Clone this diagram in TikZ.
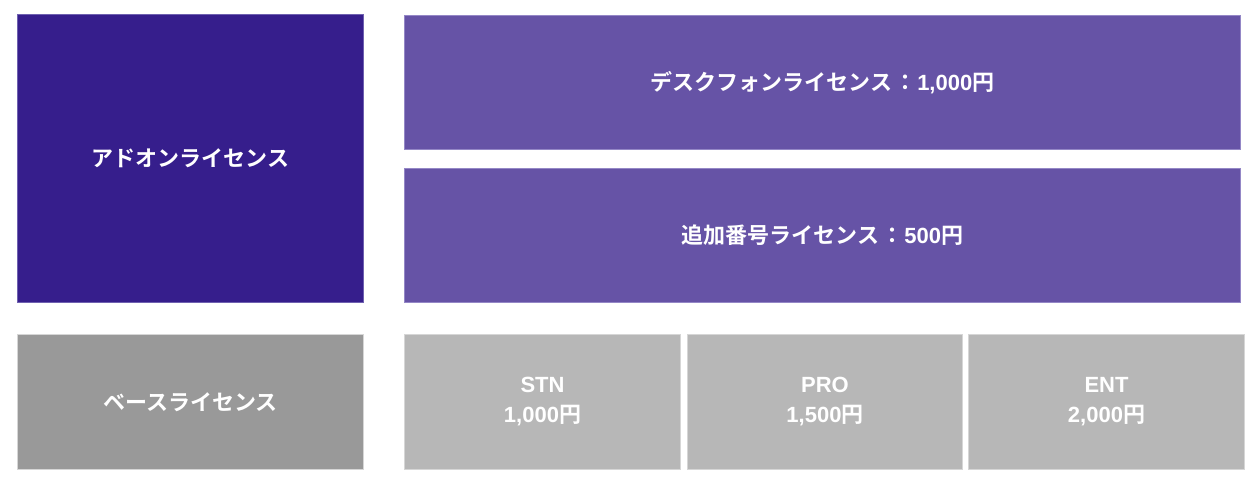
\documentclass[tikz,border=0pt]{standalone}
\usepackage{fontspec}
\setmainfont{Liberation Sans}
\newfontfamily\cjk{Noto Sans CJK JP}[BoldFont={Noto Sans CJK JP Bold}]
\definecolor{darkpurple}{HTML}{361E8C}
\definecolor{midpurple}{HTML}{6653A6}
\definecolor{midpurpleedge}{HTML}{9487C6}
\definecolor{darkedge}{HTML}{6F61B0}
\definecolor{basegray}{HTML}{999999}
\definecolor{planegray}{HTML}{B7B7B7}
\definecolor{grayedge}{HTML}{D6D6D6}
\newcommand{\jcolon}{\hspace{2pt}{\cjk ：}\hspace{1pt}}
\tikzset{
  box/.style={anchor=north west, inner sep=0pt, line width=1pt, text=white,
    font=\fontsize{22}{30}\selectfont\bfseries, align=center},
  addon/.style={box, fill=darkpurple, draw=darkedge},
  addopt/.style={box, fill=midpurple, draw=midpurpleedge},
  basebox/.style={box, fill=basegray, draw=grayedge},
  plan/.style={box, fill=planegray, draw=grayedge},
}
\begin{document}
\begin{tikzpicture}[x=1pt,y=-1pt]
\useasboundingbox[fill=white] (0,0) rectangle (1260,485);
\node[addon, minimum width=346pt, minimum height=288pt] (addon) at (17,14) {{\cjk アドオンライセンス}};
\node[addopt, minimum width=836pt, minimum height=134pt] (desk) at (404,15) {{\cjk デスクフォンライセンス}\jcolon 1,000{\cjk 円}};
\node[addopt, minimum width=836pt, minimum height=134pt] (extra) at (404,168) {{\cjk 追加番号ライセンス}\jcolon 500{\cjk 円}};
\node[basebox, minimum width=346pt, minimum height=135pt] (base) at (17,334) {{\cjk ベースライセンス}};
\node[plan, minimum width=276pt, minimum height=135pt] (stn) at (404,334) {STN\\1,000{\cjk 円}};
\node[plan, minimum width=275pt, minimum height=135pt] (pro) at (687,334) {PRO\\1,500{\cjk 円}};
\node[plan, minimum width=276pt, minimum height=135pt] (ent) at (968,334) {ENT\\2,000{\cjk 円}};
\end{tikzpicture}
\end{document}
